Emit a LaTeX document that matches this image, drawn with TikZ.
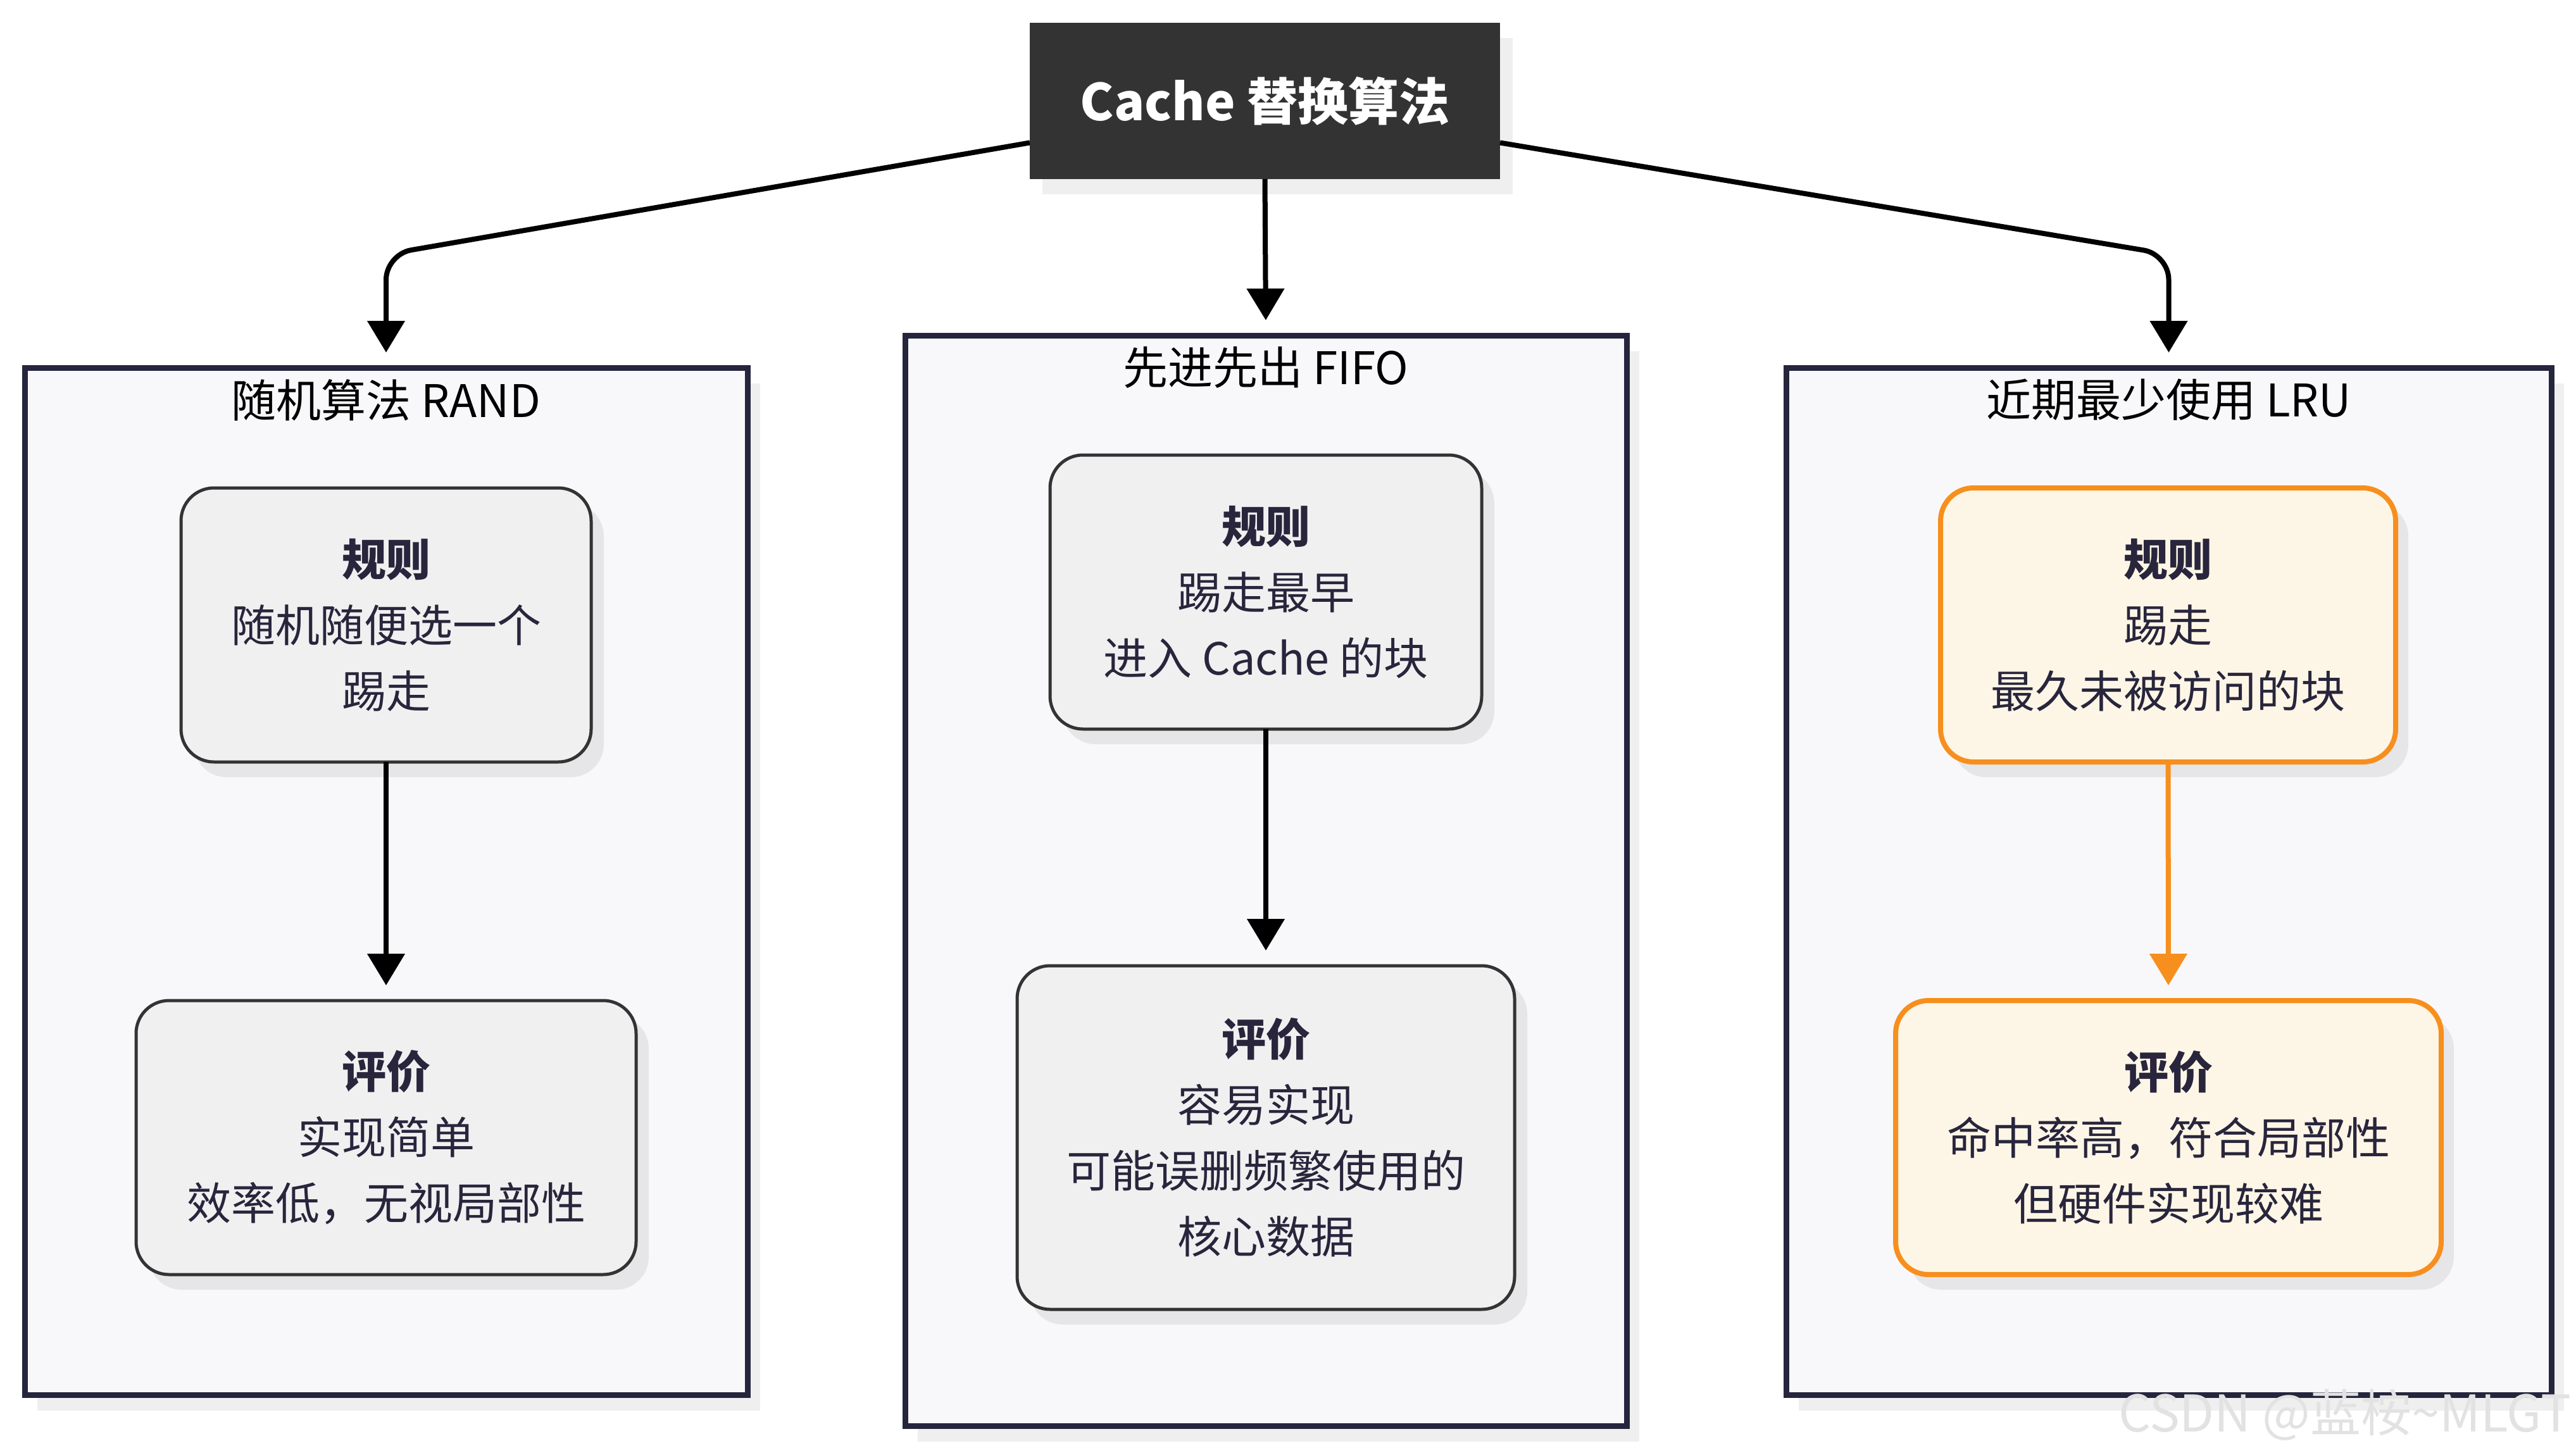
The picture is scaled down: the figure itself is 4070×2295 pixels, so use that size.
\documentclass[tikz,border=0pt]{standalone}
\usepackage{fontspec}
\setmainfont{Noto Sans CJK SC}
\usetikzlibrary{arrows.meta,shadows,calc}
\definecolor{topfill}{HTML}{333333}
\definecolor{contfill}{HTML}{F8F8FA}
\definecolor{contdraw}{HTML}{25253D}
\definecolor{contshadow}{HTML}{EFEFEF}
\definecolor{boxfill}{HTML}{F0F0F0}
\definecolor{boxdraw}{HTML}{333333}
\definecolor{boxshadow}{HTML}{E6E6E8}
\definecolor{lrufill}{HTML}{FDF6E6}
\definecolor{lrudraw}{HTML}{F78F1E}
\definecolor{txt}{HTML}{28253C}
\definecolor{wmcol}{HTML}{E2E2E2}
\tikzset{
  container/.style={draw=contdraw, line width=9pt, fill=contfill, outer sep=0pt, inner sep=0pt,
    drop shadow={shadow xshift=20pt, shadow yshift=-25pt, fill=contshadow, opacity=1}},
  conttitle/.style={text=black, font=\fontsize{71}{84}\selectfont, inner sep=0pt},
  infobox/.style={draw=boxdraw, line width=5pt, fill=boxfill, rounded corners=52pt, outer sep=0pt,
    inner sep=0pt, align=center, text=txt, font=\fontsize{70}{104}\selectfont,
    drop shadow={shadow xshift=20pt, shadow yshift=-24pt, fill=boxshadow, opacity=1}},
  lrubox/.style={infobox, draw=lrudraw, line width=8pt, fill=lrufill},
  arr/.style={draw=black, line width=8pt, -{Triangle[width=58pt,length=50pt]}, shorten >=24pt},
  lruarr/.style={arr, draw=lrudraw, -{Triangle[width=58pt,length=50pt,fill=lrudraw]}},
}
\begin{document}
\begin{tikzpicture}[x=1pt, y=-1pt]
\useasboundingbox (0,0) rectangle (4070,2295);
\fill[white] (0,0) rectangle (4070,2295);

% containers
\node[container, minimum width=1142pt, minimum height=1623pt] (c1) at (610,1392.5) {};
\node[container, minimum width=1140pt, minimum height=1723pt] (c2) at (2000,1391.5) {};
\node[container, minimum width=1209pt, minimum height=1623pt] (c3) at (3426.5,1392.5) {};

\node[conttitle] (t1) at ([yshift=-51pt]c1.north) {随机算法 RAND};
\node[conttitle] (t2) at ([yshift=-51pt]c2.north) {先进先出 FIFO};
\node[conttitle] (t3) at ([yshift=-51pt]c3.north) {近期最少使用 LRU};

% top node
\node[fill=topfill, text=white, font=\fontsize{80}{96}\selectfont\bfseries, minimum width=743pt,
  minimum height=247pt, outer sep=0pt, inner sep=0pt,
  drop shadow={shadow xshift=20pt, shadow yshift=-24pt, fill=contshadow, opacity=1}]
  (top) at (1998.5,159.5) {Cache 替换算法};

% inner boxes
\node[infobox, minimum width=648pt, minimum height=433pt] (r1) at (610,987.5)
  {{\bfseries 规则}\\随机随便选一个\\踢走};
\node[infobox, minimum width=790pt, minimum height=433pt] (e1) at (610,1797.5)
  {{\bfseries 评价}\\实现简单\\效率低，无视局部性};
\node[infobox, minimum width=682pt, minimum height=433pt] (r2) at (2000,935.5)
  {{\bfseries 规则}\\踢走最早\\进入 Cache 的块};
\node[infobox, minimum width=786pt, minimum height=543pt] (e2) at (2000,1797.5)
  {{\bfseries 评价}\\容易实现\\可能误删频繁使用的\\核心数据};
\node[lrubox, minimum width=719pt, minimum height=433pt] (r3) at (3425.5,987.5)
  {{\bfseries 规则}\\踢走\\最久未被访问的块};
\node[lrubox, minimum width=862pt, minimum height=433pt] (e3) at (3426,1797.5)
  {{\bfseries 评价}\\命中率高，符合局部性\\但硬件实现较难};

% connectors
\draw[arr, rounded corners=40pt] ([yshift=-66pt]top.west) -- ([yshift=179pt]c1.north) -- (c1.north);
\draw[arr] (top.south) -- (c2.north);
\draw[arr, rounded corners=40pt] ([yshift=-66pt]top.east) -- ([yshift=179pt]c3.north) -- (c3.north);

\draw[arr] (r1.south) -- (e1.north);
\draw[arr] (r2.south) -- (e2.north);
\draw[lruarr] (r3.south) -- (e3.north);

% watermark
\node[anchor=base east, text=wmcol, font=\fontsize{80}{90}\selectfont, inner sep=0pt] (wm)
  at (4062,2262) {CSDN @蓝桉\textasciitilde MLGT};
\end{tikzpicture}
\end{document}
